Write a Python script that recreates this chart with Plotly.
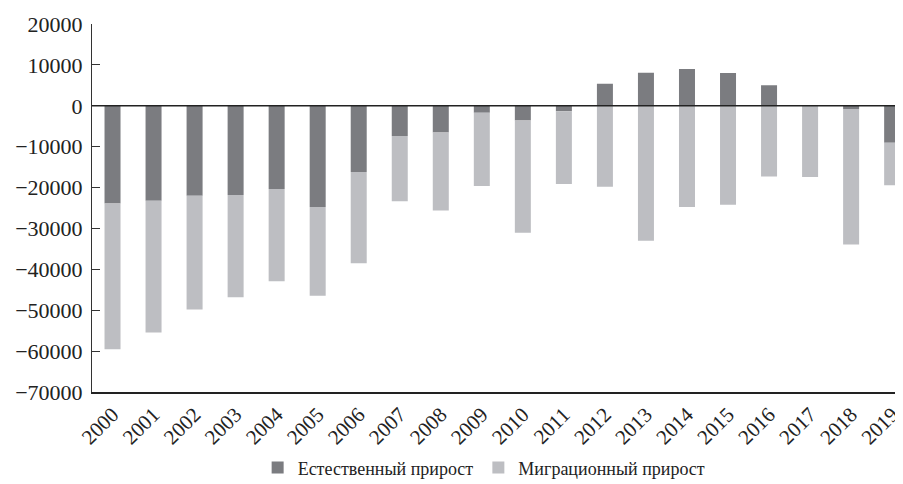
import plotly.graph_objects as go

years = [str(y) for y in range(2000, 2020)]
natural = [-23900, -23200, -22000, -21800, -20300, -24700, -16200, -7400, -6500, -1700,
           -3600, -1300, 5400, 8100, 9000, 8000, 5000, 0, -800, -9000]
migration = [-35600, -32200, -27800, -25000, -22600, -21700, -22300, -15900, -19100, -17900,
             -27400, -17800, -19800, -33000, -24700, -24200, -17300, -17400, -33100, -10400]
series_names = ["Естественный прирост", "Миграционный прирост"]
y_ticks = [20000, 10000, 0, -10000, -20000, -30000, -40000, -50000, -60000, -70000]

FONT = "Liberation Serif, Times New Roman, DejaVu Serif, serif"

fig = go.Figure()
fig.add_trace(go.Bar(x=years, y=natural, name=series_names[0],
                     marker=dict(color="#7b7c80", line=dict(width=0))))
fig.add_trace(go.Bar(x=years, y=migration, name=series_names[1],
                     marker=dict(color="#bdbec2", line=dict(width=0))))

fig.add_shape(type="line", xref="paper", x0=0, x1=1, yref="y", y0=0, y1=0,
              line=dict(color="#222222", width=1.5), layer="above")

fig.update_layout(
    width=895, height=476,
    barmode="relative", bargap=0.61,
    plot_bgcolor="white", paper_bgcolor="white",
    margin=dict(l=84, r=0, t=16, b=88),
    font=dict(family=FONT, color="#222222"),
    legend=dict(orientation="h", xref="container", yref="container",
                x=0.532, xanchor="center", y=0.034, yanchor="middle",
                font=dict(family=FONT, size=18, color="#222222"),
                itemwidth=30, traceorder="normal"),
    xaxis=dict(range=[-0.5, 19.24], tickangle=-45, showline=True,
               linecolor="#222222", linewidth=1.5, ticks="", showgrid=False,
               tickfont=dict(family=FONT, size=21, color="#222222")),
    yaxis=dict(range=[-70000, 20000], tickvals=y_ticks, tickformat="d",
               showline=True, linecolor="#333333", linewidth=1,
               ticks="inside", ticklen=8, tickcolor="#333333",
               ticklabelstandoff=4,
               showgrid=False, zeroline=False,
               tickfont=dict(family=FONT, size=22, color="#222222")),
)

fig.write_html("out.html")
